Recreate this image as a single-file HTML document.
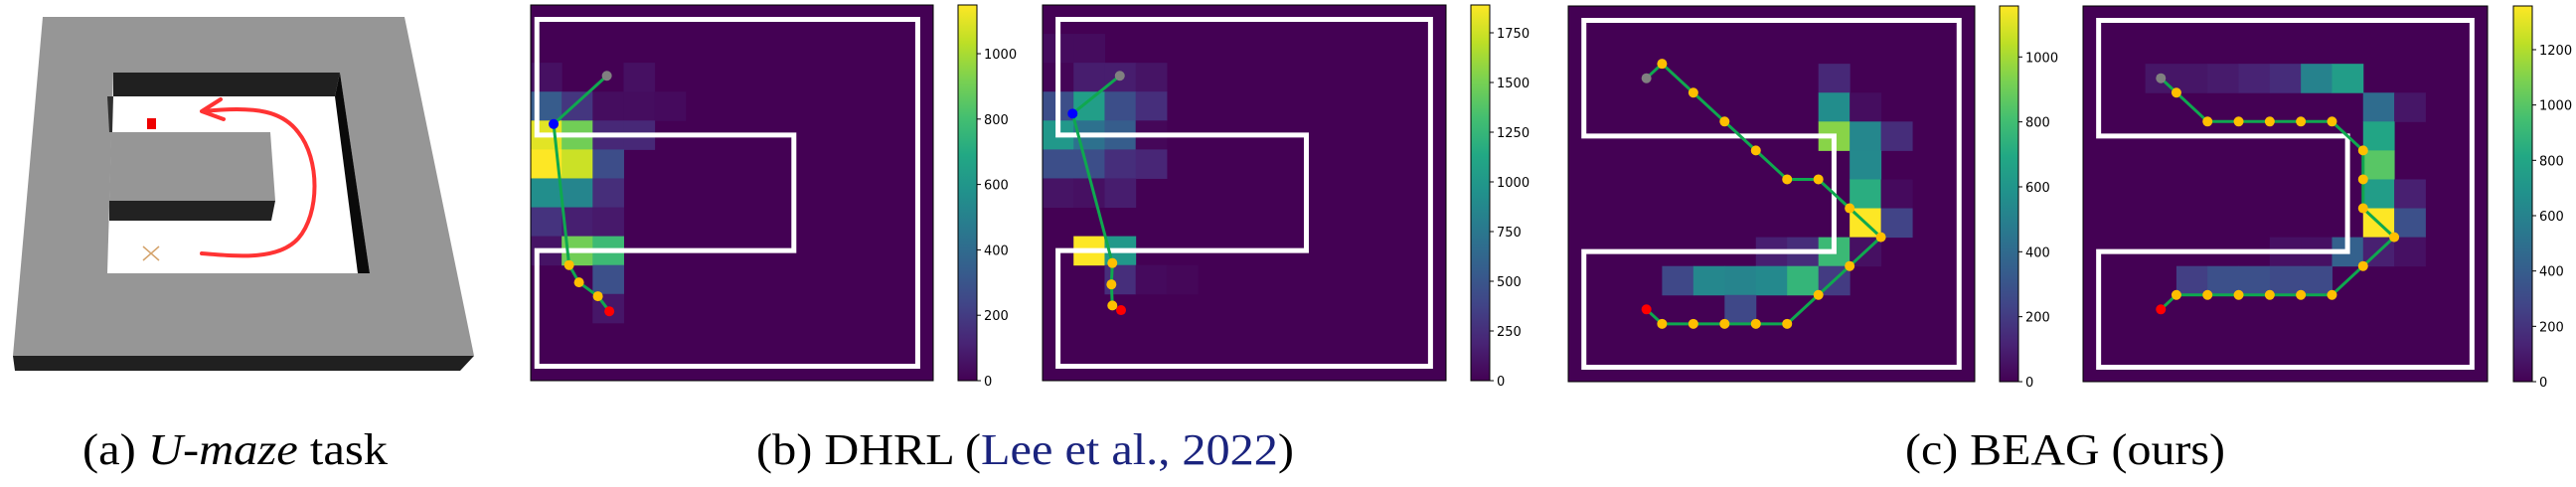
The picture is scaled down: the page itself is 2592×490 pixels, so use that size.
<!DOCTYPE html>
<html><head><meta charset="utf-8">
<style>
html,body{margin:0;padding:0;background:#fff;}
svg{display:block;}
</style></head>
<body>
<svg id="fig" xmlns="http://www.w3.org/2000/svg" width="2592" height="490" viewBox="0 0 2592 490">
  <defs>
    <linearGradient id="viridis" x1="0" y1="1" x2="0" y2="0">
      <stop offset="0" stop-color="#440154"/><stop offset="0.1" stop-color="#482475"/>
      <stop offset="0.2" stop-color="#414487"/><stop offset="0.3" stop-color="#355f8d"/>
      <stop offset="0.4" stop-color="#2a788e"/><stop offset="0.5" stop-color="#21918c"/>
      <stop offset="0.6" stop-color="#22a884"/><stop offset="0.7" stop-color="#44bf70"/>
      <stop offset="0.8" stop-color="#7ad151"/><stop offset="0.9" stop-color="#bddf26"/>
      <stop offset="1" stop-color="#fde725"/>
    </linearGradient>
  </defs>

  <!-- (a) U-maze render -->
  <g>
    <polygon points="13,358 477,358 463,373 15,373" fill="#202020"/>
    <polygon points="43,17 407,17 477,358 13,358" fill="#969696"/>
    <polygon points="114,73 342,73 372,275 108,275" fill="#ffffff"/>
    <polygon points="114,73 342,73 337,97 114,97" fill="#202020"/>
    <polygon points="342,73 337,97 360,275 372,275" fill="#0a0a0a"/>
    <polygon points="108,97 114,97 113,133 110,133" fill="#303030"/>
    <polygon points="112,133 272,133 277,202 110,202" fill="#969696"/>
    <polygon points="110,202 277,202 273,222 110,222" fill="#222222"/>
    <rect x="148" y="119" width="9" height="11" fill="#ee0000"/>
    <g stroke="#d4a26a" stroke-width="1.5">
      <line x1="144" y1="248" x2="160" y2="262"/><line x1="160" y1="248" x2="144" y2="262"/>
    </g>
    <path d="M203,255 C240,258 280,262 300,240 C322,215 322,160 300,133 C285,113 260,106 205,112" fill="none" stroke="#ff3333" stroke-width="4" stroke-linecap="round"/>
    <path d="M222,100 L203,112 L225,120" fill="none" stroke="#ff3333" stroke-width="4" stroke-linecap="round" stroke-linejoin="round"/>
  </g>

  <g id="panels"></g>

  <text x="83" y="467" font-family="Liberation Serif, serif" font-size="44" textLength="307" lengthAdjust="spacingAndGlyphs">(a) <tspan font-style="italic">U-maze</tspan> task</text>
  <text x="761" y="467" font-family="Liberation Serif, serif" font-size="44" textLength="541" lengthAdjust="spacingAndGlyphs">(b) DHRL (<tspan fill="#1a237e">Lee et al., 2022</tspan>)</text>
  <text x="1917" y="467" font-family="Liberation Serif, serif" font-size="44" textLength="322" lengthAdjust="spacingAndGlyphs">(c) BEAG (ours)</text>
</svg>

<script>
// ---- data: heatmap cells [row, col, count] ----
const dhrl1Cells = [[2,0,50],[2,3,50],[3,0,330],[3,1,180],[3,2,40],[3,3,40],[3,4,30],
  [4,0,1100],[4,1,900],[4,2,130],[4,3,130],[5,0,1149],[5,1,1060],[5,2,270],
  [6,0,560],[6,1,520],[6,2,150],[7,0,170],[7,1,100],[7,2,80],
  [8,0,60],[8,1,900],[8,2,780],[9,2,280],[10,2,70]];
const dhrl2Cells = [[1,0,60],[1,1,60],[2,0,20],[2,1,150],[2,2,150],[2,3,100],
  [3,0,450],[3,1,1050],[3,2,450],[3,3,250],[4,0,1000],[4,1,700],[4,2,550],[4,3,30],
  [5,0,450],[5,1,450],[5,2,250],[5,3,200],[6,0,100],[6,1,80],[6,2,150],
  [8,1,1890],[8,2,1000],[9,2,250],[9,3,50],[9,4,30]];
const beag1Cells = [[2,8,130],[3,8,560],[3,9,40],[4,8,950],[4,9,530],[4,10,150],
  [5,9,540],[6,9,720],[6,10,30],[7,9,1157],[7,10,230],
  [8,6,100],[8,7,150],[8,8,780],[8,9,50],
  [9,3,250],[9,4,530],[9,5,520],[9,6,540],[9,7,760],[9,8,200],[10,5,250]];
const beag2Cells = [[2,2,80],[2,3,80],[2,4,100],[2,5,130],[2,6,170],[2,7,600],[2,8,750],
  [3,9,480],[3,10,80],[4,9,800],[5,9,1000],[6,9,750],[6,10,120],[7,9,1358],[7,10,330],
  [8,6,60],[8,7,60],[8,8,420],[8,9,120],[8,10,60],
  [9,3,250],[9,4,330],[9,5,330],[9,6,300],[9,7,300]];
// ---- data: trajectories (cell coords) ----
const dhrl1X = [2.46,0.74,1.24,1.56,2.17,2.54];
const dhrl1Y = [2.45,4.12,9.0,9.6,10.08,10.6];
const dhrl2X = [2.49,0.97,2.25,2.22,2.25,2.53];
const dhrl2Y = [2.45,3.76,8.93,9.67,10.4,10.56];
const beag1X = [2.5,3,4,5,6,7,8,9,10,9,8,7,6,5,4,3,2.5];
const beag1Y = [2.5,2,3,4,5,6,6,7,8,9,10,11,11,11,11,11,10.5];
const beag2X = [2.5,3,4,5,6,7,8,9,9,9,10,9,8,7,6,5,4,3,2.5];
const beag2Y = [2.5,3,4,4,4,4,4,5,6,7,8,9,10,10,10,10,10,10,10.5];
// ---- data: colorbar maxima and ticks ----
const dhrl1Max = 1149, dhrl2Max = 1890, beag1Max = 1157, beag2Max = 1358;
const dhrl1Ticks = [0,200,400,600,800,1000];
const dhrl2Ticks = [0,250,500,750,1000,1250,1500,1750];
const beag1Ticks = [0,200,400,600,800,1000];
const beag2Ticks = [0,200,400,600,800,1000,1200];

const NS = 'http://www.w3.org/2000/svg';
const stops = ['#440154','#482475','#414487','#355f8d','#2a788e','#21918c','#22a884','#44bf70','#7ad151','#bddf26','#fde725'];
function hex(h){return [1,3,5].map(i=>parseInt(h.substr(i,2),16));}
function viridis(t){
  t=Math.max(0,Math.min(1,t)); const s=t*10, i=Math.min(9,Math.floor(s)), f=s-i;
  const a=hex(stops[i]), b=hex(stops[i+1]);
  return 'rgb('+a.map((v,k)=>Math.round(v+(b[k]-v)*f)).join(',')+')';
}
function mk(tag, attrs, parent){
  const e=document.createElementNS(NS,tag);
  for(const k in attrs) e.setAttribute(k,attrs[k]);
  parent.appendChild(e); return e;
}
const root=document.getElementById('panels');
const panels=[
  {id:'dhrl-1',cells:dhrl1Cells,xs:dhrl1X,ys:dhrl1Y,max:dhrl1Max,ticks:dhrl1Ticks,x0:534,y0:5,w:405,h:378,cbx:964,clip:1025,L:0.2,blue:true},
  {id:'dhrl-2',cells:dhrl2Cells,xs:dhrl2X,ys:dhrl2Y,max:dhrl2Max,ticks:dhrl2Ticks,x0:1049,y0:5,w:406,h:378,cbx:1480,clip:1542,L:0.5,blue:true},
  {id:'beag-1',cells:beag1Cells,xs:beag1X,ys:beag1Y,max:beag1Max,ticks:beag1Ticks,x0:1578,y0:6,w:409,h:378,cbx:2012,clip:2073,L:0.5,blue:false},
  {id:'beag-2',cells:beag2Cells,xs:beag2X,ys:beag2Y,max:beag2Max,ticks:beag2Ticks,x0:2096,y0:6,w:407,h:378,cbx:2529,clip:2592,L:0.5,blue:false}
];
panels.forEach((p,pi)=>{
  const g=mk('g',{},root);
  
  
  const sx=c=>p.x0+c*p.w/13, sy=r=>p.y0+r*p.h/13;
  const bg=mk('rect',{x:p.x0,y:p.y0,width:p.w,height:p.h,fill:viridis(0)},g);
  
  
  p.cells.forEach(([r,c,v])=>{
    const cell=mk('rect',{x:sx(c),y:sy(r),width:p.w/13+0.5,height:p.h/13+0.5,fill:viridis(v/p.max)},g);
    
    
  });
  const L=p.L;
  const wp=[[L,4.5],[L,0.5],[12.5,0.5],[12.5,12.5],[L,12.5],[L,8.5],[8.5,8.5],[8.5,4.5]];
  const wall=mk('polygon',{points:wp.map(q=>sx(q[0])+','+sy(q[1])).join(' '),fill:'none',stroke:'#fff','stroke-width':5,'stroke-linejoin':'miter'},g);
  
  
  const line=mk('polyline',{points:p.xs.map((x,i)=>sx(x)+','+sy(p.ys[i])).join(' '),fill:'none',stroke:'#0fa84f','stroke-width':3},g);
  
  
  p.xs.forEach((x,i)=>{
    let col='#ffbf00';
    if(i===0) col='#808080'; else if(i===p.xs.length-1) col='#ff0000'; else if(p.blue && i===1) col='#0000ff';
    const d=mk('circle',{cx:sx(x),cy:sy(p.ys[i]),r:5,fill:col},g);
    
    
  });
  const fr=mk('rect',{x:p.x0,y:p.y0,width:p.w,height:p.h,fill:'none',stroke:'#000','stroke-width':1},g);
  
  
  // colorbar
  const cg=mk('g',{},g);
  
  
  const cbw=19;
  const cb=mk('rect',{x:p.cbx,y:p.y0,width:cbw,height:p.h,fill:'url(#viridis)',stroke:'#000','stroke-width':1},cg);
  
  
  const clipId='clip'+pi;
  const cp=mk('clipPath',{id:clipId},cg);
  mk('rect',{x:p.cbx,y:0,width:p.clip-p.cbx,height:490},cp);
  const tg=mk('g',{'clip-path':'url(#'+clipId+')'},cg);
  p.ticks.forEach(t=>{
    const y=p.y0+p.h-t/p.max*p.h;
    const tk=mk('line',{x1:p.cbx+cbw,x2:p.cbx+cbw+4,y1:y,y2:y,stroke:'#000','stroke-width':1},tg);
    
    
    const tx=mk('text',{x:p.cbx+cbw+7,y:y+5,'font-family':'DejaVu Sans, sans-serif','font-size':13,fill:'#000'},tg);
    tx.textContent=String(t);
    
    
  });
});
</script>
</body></html>
